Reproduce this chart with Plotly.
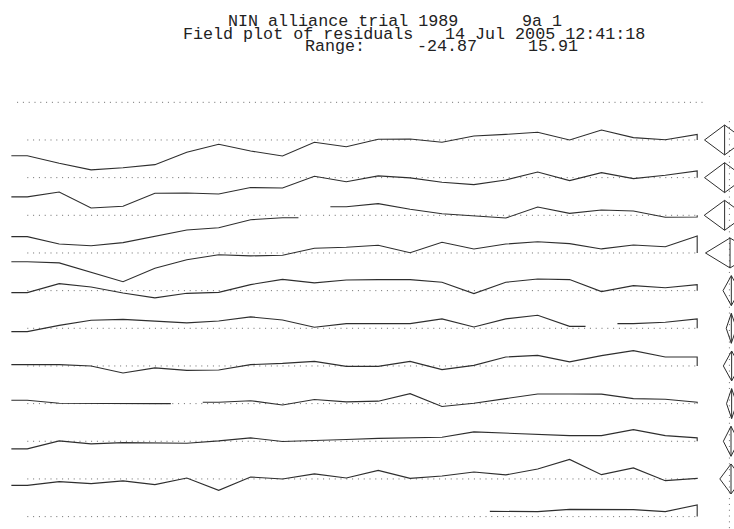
import plotly.graph_objects as go

# header text
title_trial = "NIN alliance trial 1989"
title_unit = "9a 1"
title_plot = "Field plot of residuals"
title_stamp = "14 Jul 2005 12:41:18"

# plot columns across the field
columns = list(range(1, 23))

# residuals per field row (None = missing plot)
row01 = [-12.8, -19.0, -24.4, -22.6, -20.1, -10.0, -3.5, -9.0, -13.0, -1.9, -5.5,
         0.6, 0.8, -1.9, 3.3, 4.6, 6.3, 0.0, 8.1, 1.9, 0.2, 4.6]
row02 = [-15.7, -11.7, -24.7, -23.3, -12.7, -12.5, -13.3, -8.1, -8.4, 1.1, -3.3,
         1.4, -0.2, -3.7, -5.7, -1.9, 4.6, -2.4, 4.1, -0.8, 2.0, 5.5]
row03 = [-17.4, -23.4, -24.87, -22.3, -17.4, -12.0, -10.1, -3.6, -2.0, None, 7.0,
         9.5, 4.9, 1.3, -0.3, -2.2, 6.8, 1.6, 4.3, 3.5, -1.6, -1.4]
row04 = [-7.1, -8.1, -15.7, -23.4, -12.5, -5.5, -1.4, -2.4, -1.9, 3.8, 4.6,
         6.3, 0.2, 8.7, 3.3, 7.3, 9.2, 7.6, 3.3, 6.5, 5.1, 13.9]
row05 = [-1.6, 5.7, 3.0, -1.9, -5.9, -2.2, -1.4, 4.9, 9.2, 6.3, 8.7,
         9.0, 9.0, 6.8, -2.4, 6.8, 9.5, 9.0, -0.8, 4.1, 2.4, 4.9]
row06 = [-2.7, 2.4, 6.5, 7.3, 6.0, 4.4, 6.0, 9.3, 6.8, 0.8, 3.8,
         3.8, 3.8, 7.7, 1.1, 7.7, 10.6, 1.6, None, 3.8, 4.9, 7.7]
row07 = [1.1, 1.1, 0.0, -5.7, -1.6, -3.6, -3.3, 1.1, 2.1, 3.7, -0.3,
         -0.3, 3.7, -3.0, 0.5, 7.3, 8.6, 3.3, 8.4, 12.5, 7.3, 7.3]
row08 = [2.8, 0.3, 0.0, 0.0, 0.0, None, 1.1, 2.4, -1.1, 3.3, 1.4,
         2.0, 8.1, -2.4, 0.3, 4.1, 7.9, 7.9, 7.7, 4.1, 3.6, 1.1]
row09 = [-6.2, 0.3, -2.1, -1.1, -1.6, -1.6, 0.3, 2.8, -0.2, 0.3, 1.4,
         2.4, 3.0, 3.3, 7.7, 6.5, 5.5, 4.6, 4.6, 9.5, 4.6, 2.8]
row10 = [-5.2, -2.2, -3.8, -1.6, -4.6, 0.8, -9.3, 1.6, 0.0, 4.1, 0.8,
         7.0, 0.5, 2.4, 5.7, 3.3, 8.1, 15.91, 3.5, 9.0, -1.4, 0.5]
row11 = [None, None, None, None, None, None, None, None, None, None, None,
         None, None, None, None, 4.3, 4.1, 5.9, 5.9, 5.7, 4.1, 9.5]
rows = [row01, row02, row03, row04, row05, row06, row07, row08, row09, row10, row11]

# right-hand row summary glyphs (rows 1-10): centre and half-width on the column scale
glyph_centre = [22.86, 22.86, 22.86, 23.03, 23.07, 23.07, 23.08, 23.08, 23.06, 23.06]
glyph_half = [0.63, 0.63, 0.64, 0.77, 0.26, 0.16, 0.26, 0.16, 0.24, 0.35]
glyph_axis = 23.01

ROW_GAP = 30.7
GLYPH_H = 12.2
INK = "#2e2e2e"
DOT = "#6a6a6a"

all_vals = [v for r in rows for v in r if v is not None]
lo, hi = min(all_vals), max(all_vals)


def row_path(vals, base):
    xs, ys = [], []
    i, n = 0, len(vals)
    while i < n:
        if vals[i] is None:
            i += 1
            continue
        j = i
        while j + 1 < n and vals[j + 1] is not None:
            j += 1
        sx = [columns[i] - 0.5] + columns[i:j + 1]
        sy = [vals[i]] + vals[i:j + 1]
        if j == n - 1:
            sx.append(columns[j])
            sy.append(0)
        else:
            sx.append(columns[j] + 0.5)
            sy.append(vals[j])
        xs += sx + [None]
        ys += [base + v for v in sy] + [None]
        i = j + 1
    return xs, ys


fig = go.Figure()

# dotted baselines
bx, by = [columns[0] - 0.32, columns[-1] + 0.27, None], [0, 0, None]
for k in range(1, len(rows) + 1):
    bx += [columns[0], columns[-1], None]
    by += [-k * ROW_GAP, -k * ROW_GAP, None]
bx += [glyph_axis, glyph_axis]
by += [-ROW_GAP / 2, -(len(rows) + 0.6) * ROW_GAP]
fig.add_trace(go.Scatter(x=bx, y=by, mode="lines", hoverinfo="skip",
                         line=dict(color=DOT, width=1, dash="1px,4.8px")))

# residual lines
for k, r in enumerate(rows, start=1):
    xs, ys = row_path(r, -k * ROW_GAP)
    fig.add_trace(go.Scatter(x=xs, y=ys, mode="lines", connectgaps=False,
                             line=dict(color=INK, width=1.1), hoverinfo="skip"))

# row summary diamonds
gx, gy = [], []
for k, (c, w) in enumerate(zip(glyph_centre, glyph_half), start=1):
    b = -k * ROW_GAP
    gx += [c - w, c, c + w, c, c - w, None, c, c, None]
    gy += [b, b + GLYPH_H, b, b - GLYPH_H, b, None, b + GLYPH_H, b - GLYPH_H, None]
fig.add_trace(go.Scatter(x=gx, y=gy, mode="lines", line=dict(color=INK, width=1),
                         hoverinfo="skip"))

W, H = 734, 529
font = dict(family="Liberation Mono, Courier New, monospace", size=16.7, color="#222")
header = [
    (title_trial, 227, 21.8), (title_unit, 521, 21.8),
    (title_plot, 182, 34.5), (title_stamp, 444, 34.5),
    ("Range:", 304, 46.2), (f"{lo:.2f}", 416, 46.2), (f"{hi:.2f}", 527, 46.2),
]
for text, px, py in header:
    fig.add_annotation(text=text, xref="paper", yref="paper",
                       x=px / W, y=1 - py / H,
                       xanchor="left", yanchor="middle", showarrow=False, font=font,
                       borderpad=0)

fig.update_layout(width=W, height=H, margin=dict(l=0, r=0, t=0, b=0),
                  paper_bgcolor="white", plot_bgcolor="white", showlegend=False,
                  hovermode=False,
                  xaxis=dict(visible=False, range=[0.144, 23.154]),
                  yaxis=dict(visible=False, range=[-347.8, 83.4]))

# drop the default body margin so the figure fills the window exactly
fig.write_html("out.html", config={"displayModeBar": False},
               post_script="document.body.style.margin='0';")
